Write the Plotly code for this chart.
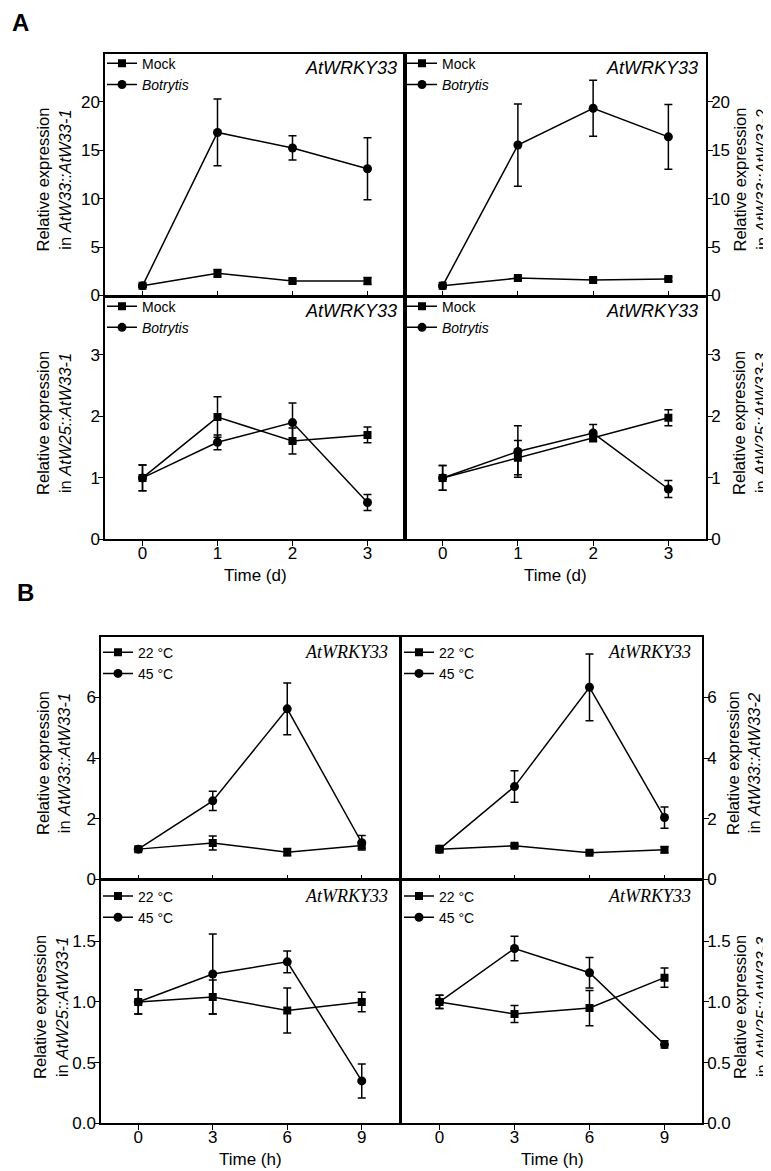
import plotly.graph_objects as go

W, H = 771, 1171

# ---------------- data ----------------
A_days = [0, 1, 2, 3]
B_hours = [0, 3, 6, 9]

A1_mock = [1.0, 2.3, 1.5, 1.5]
A1_mock_err = [0.15, 0.4, 0.2, 0.35]
A1_bot = [1.0, 16.85, 15.25, 13.1]
A1_bot_err = [0.1, 3.45, 1.25, 3.2]

A2_mock = [1.0, 1.8, 1.6, 1.7]
A2_mock_err = [0.1, 0.2, 0.15, 0.2]
A2_bot = [1.0, 15.55, 19.35, 16.4]
A2_bot_err = [0.1, 4.25, 2.9, 3.35]

A3_mock = [1.0, 1.99, 1.60, 1.70]
A3_mock_err = [0.21, 0.33, 0.21, 0.13]
A3_bot = [1.0, 1.58, 1.90, 0.60]
A3_bot_err = [0.21, 0.12, 0.32, 0.13]

A4_mock = [1.0, 1.33, 1.66, 1.98]
A4_mock_err = [0.2, 0.28, 0.05, 0.13]
A4_bot = [1.0, 1.43, 1.73, 0.82]
A4_bot_err = [0.2, 0.42, 0.14, 0.14]

B1_22 = [1.0, 1.2, 0.9, 1.12]
B1_22_err = [0.05, 0.23, 0.12, 0.1]
B1_45 = [1.0, 2.59, 5.62, 1.21]
B1_45_err = [0.05, 0.32, 0.85, 0.24]

B2_22 = [1.0, 1.11, 0.88, 0.98]
B2_22_err = [0.12, 0.05, 0.05, 0.1]
B2_45 = [1.0, 3.06, 6.33, 2.04]
B2_45_err = [0.05, 0.52, 1.1, 0.35]

B3_22 = [1.0, 1.04, 0.93, 1.0]
B3_22_err = [0.1, 0.14, 0.185, 0.08]
B3_45 = [1.0, 1.23, 1.33, 0.35]
B3_45_err = [0.1, 0.33, 0.09, 0.14]

B4_22 = [1.0, 0.90, 0.95, 1.20]
B4_22_err = [0.055, 0.07, 0.145, 0.08]
B4_45 = [1.0, 1.44, 1.24, 0.65]
B4_45_err = [0.055, 0.1, 0.125, 0.03]

A_legend = ["Mock", "<i>Botrytis</i>"]
B_legend = ["22 °C", "45 °C"]
gene_label = "AtWRKY33"

A_ylabels = ["Relative expression<br>in <i>AtW33::AtW33-1</i>",
             "Relative expression<br>in <i>AtW33::AtW33-2</i>",
             "Relative expression<br>in <i>AtW25::AtW33-1</i>",
             "Relative expression<br>in <i>AtW25::AtW33-3</i>"]
B_ylabels = ["Relative expression<br>in <i>AtW33::AtW33-1</i>",
             "Relative expression<br>in <i>AtW33::AtW33-2</i>",
             "Relative expression<br>in <i>AtW25::AtW33-1</i>",
             "Relative expression<br>in <i>AtW25::AtW33-3</i>"]

# ---------------- layout helpers ----------------
def fx(px):
    return px / W

def fy(py):
    return 1 - py / H

SANS = "Liberation Sans, Arial, sans-serif"
SERIF = "Liberation Serif, Times New Roman, serif"

# panel geometry in pixels: (x0, x1, y0, y1)
panels = [
    dict(box=(97, 397, 46, 290), x=A_days, s1=(A1_mock, A1_mock_err), s2=(A1_bot, A1_bot_err),
         names=A_legend, xr=[-0.5, 3.5], xt=[0, 1, 2, 3], yr=[0, 25], yt=[0, 5, 10, 15, 20],
         side="left", top=True, ylab=A_ylabels[0], ylx=46, gfont=SANS, xlab=None, legdy=-6),
    dict(box=(397, 698, 46, 290), x=A_days, s1=(A2_mock, A2_mock_err), s2=(A2_bot, A2_bot_err),
         names=A_legend, xr=[-0.5, 3.5], xt=[0, 1, 2, 3], yr=[0, 25], yt=[0, 5, 10, 15, 20],
         side="right", top=True, ylab=A_ylabels[1], ylx=743, gfont=SANS, xlab=None, legdy=-6),
    dict(box=(97, 397, 291, 536), x=A_days, s1=(A3_mock, A3_mock_err), s2=(A3_bot, A3_bot_err),
         names=A_legend, xr=[-0.5, 3.5], xt=[0, 1, 2, 3], yr=[0, 3.95], yt=[0, 1, 2, 3],
         side="left", top=False, ylab=A_ylabels[2], ylx=46, gfont=SANS, xlab="Time (d)", legdy=-6),
    dict(box=(397, 698, 291, 536), x=A_days, s1=(A4_mock, A4_mock_err), s2=(A4_bot, A4_bot_err),
         names=A_legend, xr=[-0.5, 3.5], xt=[0, 1, 2, 3], yr=[0, 3.95], yt=[0, 1, 2, 3],
         side="right", top=False, ylab=A_ylabels[3], ylx=742, gfont=SANS, xlab="Time (d)", legdy=-6),
    dict(box=(93, 391, 634, 879), x=B_hours, s1=(B1_22, B1_22_err), s2=(B1_45, B1_45_err),
         names=B_legend, xr=[-1.5, 10.5], xt=[0, 3, 6, 9], yr=[0, 8], yt=[0, 2, 4, 6],
         side="left", top=True, ylab=B_ylabels[0], ylx=46, gfont=SERIF, xlab=None, legdy=0),
    dict(box=(394, 694, 634, 879), x=B_hours, s1=(B2_22, B2_22_err), s2=(B2_45, B2_45_err),
         names=B_legend, xr=[-1.5, 10.5], xt=[0, 3, 6, 9], yr=[0, 8], yt=[0, 2, 4, 6],
         side="right", top=True, ylab=B_ylabels[1], ylx=736, gfont=SERIF, xlab=None, legdy=0),
    dict(box=(93, 391, 880, 1125), x=B_hours, s1=(B3_22, B3_22_err), s2=(B3_45, B3_45_err),
         names=B_legend, xr=[-1.5, 10.5], xt=[0, 3, 6, 9], yr=[0, 2], yt=[0, 0.5, 1.0, 1.5],
         side="left", top=False, ylab=B_ylabels[2], ylx=43, gfont=SERIF, xlab="Time (h)", legdy=0),
    dict(box=(394, 694, 880, 1125), x=B_hours, s1=(B4_22, B4_22_err), s2=(B4_45, B4_45_err),
         names=B_legend, xr=[-1.5, 10.5], xt=[0, 3, 6, 9], yr=[0, 2], yt=[0, 0.5, 1.0, 1.5],
         side="right", top=False, ylab=B_ylabels[3], ylx=743, gfont=SERIF, xlab="Time (h)", legdy=0),
]

fig = go.Figure()
layout = dict(
    width=W, height=H, margin=dict(l=0, r=0, t=0, b=0),
    paper_bgcolor="white", plot_bgcolor="white",
    font=dict(family=SANS, size=16, color="black"),
    showlegend=True,
)
annotations = []

for i, p in enumerate(panels):
    n = i + 1
    sfx = "" if n == 1 else str(n)
    x0, x1, y0, y1 = p["box"]
    leg = "legend" if n == 1 else f"legend{n}"
    for (vals, errs), name, sym, msize in [(p["s1"], p["names"][0], "square", 8),
                                            (p["s2"], p["names"][1], "circle", 9)]:
        fig.add_trace(go.Scatter(
            x=p["x"], y=vals, name=name, mode="lines+markers",
            line=dict(color="black", width=1.5),
            marker=dict(symbol=sym, size=msize, color="black"),
            error_y=dict(type="data", array=errs, visible=True, color="black",
                         thickness=1.5, width=4),
            xaxis=f"x{sfx}", yaxis=f"y{sfx}", legend=leg, showlegend=True,
        ))
    layout[f"xaxis{sfx}"] = dict(
        domain=[fx(x0), fx(x1)], range=p["xr"], tickvals=p["xt"],
        anchor=f"y{sfx}", showline=True, mirror=True, linecolor="black", linewidth=1.5,
        ticks="inside" if p["top"] else "outside", ticklen=5, tickwidth=1.2, tickcolor="black",
        showticklabels=not p["top"], showgrid=False, zeroline=False,
        ticklabelstandoff=-8,
        tickfont=dict(size=17, family=SANS),
    )
    layout[f"yaxis{sfx}"] = dict(
        domain=[fy(y1), fy(y0)], range=p["yr"], tickvals=p["yt"],
        anchor=f"x{sfx}", side=p["side"], showline=True, mirror=True,
        linecolor="black", linewidth=1.5, ticks="outside", ticklen=5, tickwidth=1.2,
        tickcolor="black", showgrid=False, zeroline=False,
        ticklabelstandoff=-5,
        tickformat=".1f" if p["yr"][1] == 2 else None,
        tickfont=dict(size=17, family=SANS),
    )
    layout[leg] = dict(
        x=fx(x0 - 3), y=fy(y0 + p["legdy"]), xanchor="left", yanchor="top",
        bgcolor="rgba(0,0,0,0)", borderwidth=0, font=dict(size=14, family=SANS),
        tracegroupgap=0, itemwidth=30,
    )
    # gene label in upper right corner
    if p["gfont"] == SANS:
        annotations.append(dict(
            text=f"<i>{gene_label}</i>", x=fx(x1 - 6), y=fy(y0 + 15), xref="paper", yref="paper",
            xanchor="right", yanchor="middle", showarrow=False,
            font=dict(size=18, family=SANS)))
    else:
        annotations.append(dict(
            text=f"<i>{gene_label}</i>", x=fx(x1 - 9), y=fy(y0 + 16), xref="paper", yref="paper",
            xanchor="right", yanchor="middle", showarrow=False,
            font=dict(size=18, family=SERIF)))
    # y-axis title
    annotations.append(dict(
        text=p["ylab"], x=fx(p["ylx"]), y=fy((y0 + y1) / 2 + 5), xref="paper", yref="paper",
        xanchor="center", yanchor="middle", textangle=-90, showarrow=False,
        font=dict(size=16.5, family=SANS)))
    if p["xlab"]:
        annotations.append(dict(
            text=p["xlab"], x=fx((x0 + x1) / 2), y=fy(y1 + 36), xref="paper", yref="paper",
            xanchor="center", yanchor="middle", showarrow=False,
            font=dict(size=17, family=SANS)))

annotations.append(dict(text="<b>A</b>", x=fx(3), y=1, xref="paper", yref="paper",
                        xanchor="left", yanchor="top", showarrow=False, borderpad=0,
                        font=dict(size=24, family=SANS)))
annotations.append(dict(text="<b>B</b>", x=fx(7), y=fy(590), xref="paper", yref="paper",
                        xanchor="left", yanchor="middle", showarrow=False,
                        font=dict(size=24, family=SANS)))
layout["annotations"] = annotations
fig.update_layout(**layout)
fig.write_html("out.html")
